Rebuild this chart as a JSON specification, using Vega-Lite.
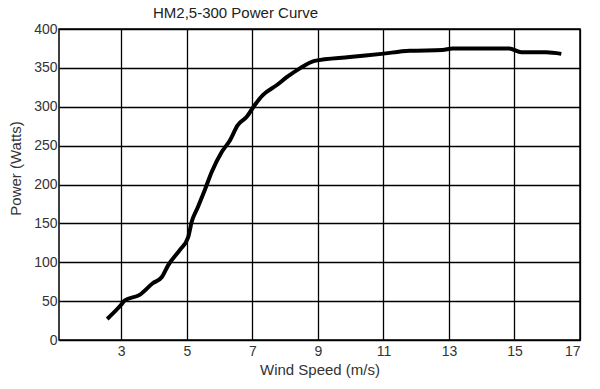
{
  "$schema": "https://vega.github.io/schema/vega-lite/v6.json",
  "width": 521,
  "height": 311,
  "autosize": "none",
  "padding": {"left": 59, "top": 29, "right": 20, "bottom": 49},
  "background": "white",
  "title": {
    "text": "HM2,5-300 Power Curve",
    "anchor": "start",
    "frame": "group",
    "dx": 94,
    "offset": 1,
    "font": "Liberation Sans",
    "fontSize": 15,
    "fontWeight": "normal",
    "color": "#222222"
  },
  "config": {
    "view": {"stroke": "black", "strokeWidth": 1.5},
    "axis": {
      "labelFont": "Liberation Sans",
      "titleFont": "Liberation Sans",
      "labelFontSize": 14,
      "titleFontSize": 15,
      "titleFontWeight": "normal",
      "labelColor": "#333333",
      "titleColor": "#333333",
      "gridColor": "black",
      "gridOpacity": 1,
      "gridWidth": 1.3,
      "ticks": false,
      "domain": false
    }
  },
  "data": {
    "values": [
      {"speed": 2.57, "power": 27},
      {"speed": 2.99, "power": 45},
      {"speed": 3.11, "power": 51},
      {"speed": 3.56, "power": 58},
      {"speed": 3.96, "power": 73},
      {"speed": 4.24, "power": 81},
      {"speed": 4.43, "power": 96},
      {"speed": 4.79, "power": 116},
      {"speed": 5.04, "power": 132},
      {"speed": 5.15, "power": 152},
      {"speed": 5.34, "power": 171},
      {"speed": 5.55, "power": 193},
      {"speed": 5.76, "power": 216},
      {"speed": 6.07, "power": 242},
      {"speed": 6.32, "power": 257},
      {"speed": 6.55, "power": 276},
      {"speed": 6.83, "power": 287},
      {"speed": 7.07, "power": 302},
      {"speed": 7.32, "power": 315},
      {"speed": 7.75, "power": 328},
      {"speed": 8.05, "power": 338},
      {"speed": 8.44, "power": 349},
      {"speed": 8.9, "power": 359},
      {"speed": 9.97, "power": 364},
      {"speed": 10.94, "power": 368},
      {"speed": 11.8, "power": 372},
      {"speed": 12.8, "power": 373},
      {"speed": 13.11, "power": 375},
      {"speed": 14.84, "power": 375},
      {"speed": 15.21, "power": 370},
      {"speed": 15.97, "power": 370},
      {"speed": 16.43, "power": 368}
    ]
  },
  "mark": {"type": "line", "color": "black", "strokeWidth": 4, "interpolate": "monotone"},
  "encoding": {
    "x": {
      "field": "speed",
      "type": "quantitative",
      "scale": {"domain": [1.1, 17], "nice": false, "zero": false},
      "axis": {"values": [3, 5, 7, 9, 11, 13, 15, 17], "title": "Wind Speed (m/s)", "labelPadding": 4, "titlePadding": 4}
    },
    "y": {
      "field": "power",
      "type": "quantitative",
      "scale": {"domain": [0, 400], "nice": false},
      "axis": {"values": [0, 50, 100, 150, 200, 250, 300, 350, 400], "title": "Power (Watts)", "labelPadding": 2, "titleX": -44, "titleY": 139, "titleBaseline": "middle"}
    }
  }
}
